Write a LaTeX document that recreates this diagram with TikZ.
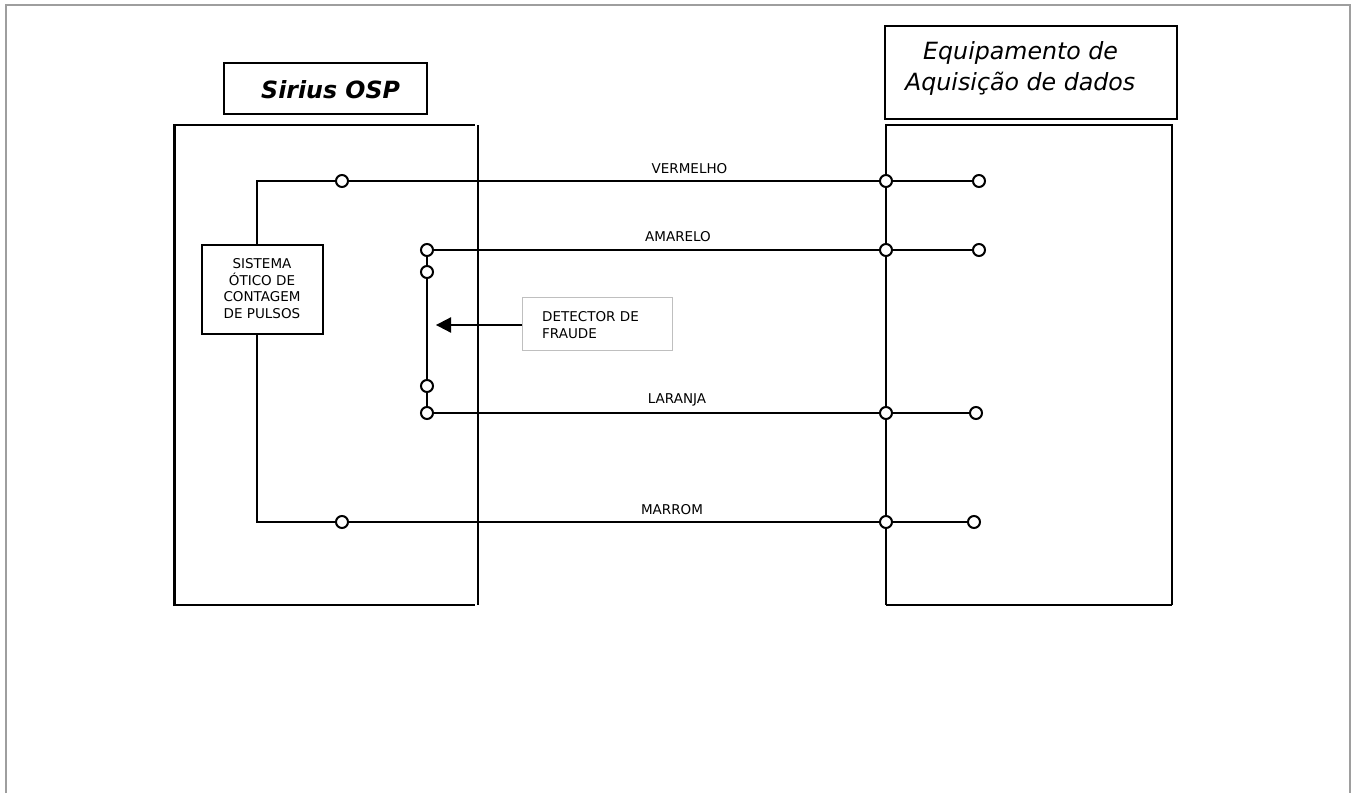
\documentclass[tikz,border=0pt]{standalone}
\usepackage{fontspec}
\setmainfont{DejaVu Sans}
\tikzset{
  wire/.style={draw=black,line width=2.1pt},
  thinwire/.style={draw=black,line width=2pt},
  term/.style={circle,draw=black,fill=white,line width=2pt,minimum size=12pt,inner sep=0pt},
  wirelabel/.style={font=\fontsize{13.5}{15}\selectfont,inner sep=0pt,anchor=center},
  boxlabel/.style={font=\fontsize{13.5}{16.6}\selectfont,inner sep=0pt,align=center},
  titlebox/.style={draw=black,line width=2.2pt,fill=white,anchor=north west,inner sep=0pt}
}
\begin{document}
\begin{tikzpicture}[x=1pt,y=-1pt]
\useasboundingbox (0,0) rectangle (1352,793);
% outer frame, open at the bottom
\draw[draw=black!38,line width=2.6pt] (6,793) -- (6,5) -- (1350,5) -- (1350,793);

% large enclosures
\draw[line width=3pt] (174,606) -- (174,125);
\draw[line width=2.2pt] (173,125) -- (475,125);
\draw[line width=2.2pt] (173,605) -- (475,605);
\draw[line width=2.4pt] (478,125) -- (478,605);
\draw[line width=2.2pt] (885,125) -- (1173,125);
\draw[line width=2pt] (1172,125) -- (1172,605);
\draw[line width=2.2pt] (886,605) -- (1172,605);
\draw[line width=2.1pt] (886,125) -- (886,605);

% title boxes
\node[titlebox,minimum width=203pt,minimum height=51pt] (sirius) at (223,62) {};
\node[anchor=west,inner sep=0pt,font=\fontsize{23.7}{26}\selectfont\bfseries\itshape] (siriustxt) at (261,90) {Sirius OSP};
\node[titlebox,minimum width=292pt,minimum height=93pt] (equip) at (884,25) {};
\node[anchor=west,inner sep=0pt,font=\fontsize{23.7}{26}\selectfont\itshape] (equipa) at (923,52.5) {Equipamento de};
\node[anchor=west,inner sep=0pt,font=\fontsize{23.7}{26}\selectfont\itshape] (equipb) at (905,83.5) {Aquisição de dados};

% boxes
\node[draw=black,line width=2.2pt,fill=white,minimum width=121pt,minimum height=89pt,inner sep=0pt,anchor=north west] (sys) at (200.5,243.5) {};
\node[boxlabel,font=\fontsize{13.5}{16.8}\selectfont] (systxt) at (262,288.5) {SISTEMA\\ÓTICO DE\\CONTAGEM\\DE PULSOS};
\node[draw=black!25,line width=1.2pt,fill=white,minimum width=150pt,minimum height=53pt,inner sep=0pt,anchor=north west] (fraud) at (522,297) {};
\node[boxlabel,align=left,anchor=west] (fraudtxt) at (542,325) {DETECTOR DE\\FRAUDE};

% coordinates and terminals
\coordinate (ctop) at (257,181);
\coordinate (cbot) at (257,522);
\node[term] (v1) at (342,181) {};
\node[term] (v2) at (886,181) {};
\node[term] (v3) at (979,181) {};
\node[term] (a1) at (427,250) {};
\node[term] (a2) at (886,250) {};
\node[term] (a3) at (979,250) {};
\node[term] (s1) at (427,272) {};
\node[term] (s2) at (427,386) {};
\node[term] (l1) at (427,413) {};
\node[term] (l2) at (886,413) {};
\node[term] (l3) at (976,413) {};
\node[term] (m1) at (342,522) {};
\node[term] (m2) at (886,522) {};
\node[term] (m3) at (974,522) {};
\coordinate (tip) at (436,325);

% wires
\draw[thinwire] (sys.north -| ctop) -- (ctop) -- (v1);
\draw[thinwire] (sys.south -| cbot) -- (cbot) -- (m1);
\draw[wire] (v1) -- (v2);
\draw[wire] (v2) -- (v3);
\draw[wire] (a1) -- (a2);
\draw[wire] (a2) -- (a3);
\draw[wire] (l1) -- (l2);
\draw[wire] (l2) -- (l3);
\draw[wire] (m1) -- (m2);
\draw[wire] (m2) -- (m3);
\draw[thinwire] (a1) -- (s1);
\draw[thinwire] (s1) -- (s2);
\draw[thinwire] (s2) -- (l1);
\draw[thinwire] (fraud.west |- tip) -- (451,325);
\fill[black] (tip) -- (451,317.2) -- (451,332.8) -- cycle;

% wire labels
\node[wirelabel] (lv) at (689.5,168.5) {VERMELHO};
\node[wirelabel] (la) at (678,236.5) {AMARELO};
\node[wirelabel] (ll) at (677,399.5) {LARANJA};
\node[wirelabel] (lm) at (672,509.5) {MARROM};
\end{tikzpicture}
\end{document}
